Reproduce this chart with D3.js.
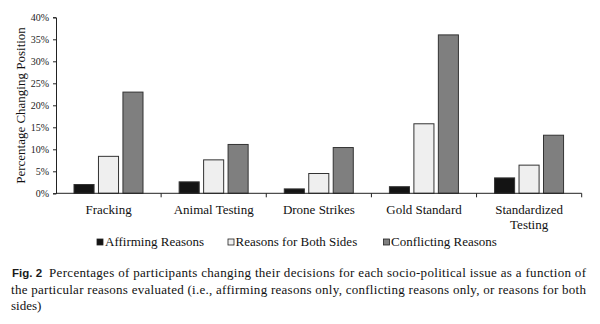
<!DOCTYPE html>
<html><head><meta charset="utf-8">
<script src="https://cdn.jsdelivr.net/npm/d3@7"></script>
</head>
<body style="margin:0;background:#fff">
<script>
const categories = ["Fracking","Animal Testing","Drone Strikes","Gold Standard","Standardized Testing"];
const series = ["Affirming Reasons","Reasons for Both Sides","Conflicting Reasons"];
const affirming = [2.0, 2.6, 1.0, 1.5, 3.5];
const bothSides = [8.4, 7.6, 4.5, 15.8, 6.4];
const conflicting = [23.0, 11.1, 10.4, 36.0, 13.2];
const yTicks = [0,5,10,15,20,25,30,35,40];
const colors = ["#141414","#efefef","#7f7f7f"];
const captionLines = [
  "Percentages of participants changing their decisions for each socio-political issue as a function of",
  "the particular reasons evaluated (i.e., affirming reasons only, conflicting reasons only, or reasons for both",
  "sides)"
];

const SERIF = '"Liberation Serif"';
const W = 600, H = 324;
const svg = d3.select("body").append("svg").attr("width",W).attr("height",H)
  .style("display","block").style("font-family",SERIF);

const y = d3.scaleLinear().domain([0,40]).range([193.3,17.3]);
const x0 = d3.scaleBand().domain(categories).range([56,581.7]).padding(0);
const x1 = d3.scaleBand().domain(series).range([18,87]).paddingInner(0.18).paddingOuter(0);

const data = categories.map((c,i)=>({cat:c, vals:[affirming[i],bothSides[i],conflicting[i]]}));

// bars
const g = svg.append("g");
data.forEach(d=>{
  series.forEach((s,j)=>{
    g.append("rect")
      .attr("x", x0(d.cat)+x1(s))
      .attr("y", y(d.vals[j]))
      .attr("width", x1.bandwidth())
      .attr("height", y(0)-y(d.vals[j]))
      .attr("fill", colors[j])
      .attr("stroke", "#333")
      .attr("stroke-width", 1);
  });
});

// y axis
const yAxis = d3.axisLeft(y).tickValues(yTicks).tickFormat(d=>d+"%").tickSize(3).tickPadding(4);
const ya = svg.append("g").attr("transform","translate(56,0)").call(yAxis);
ya.attr("font-family",null);
ya.select(".domain").attr("stroke","#222");
ya.selectAll(".tick line").attr("stroke","#222");
ya.selectAll("text").style("font-family",SERIF).style("font-size","10px").attr("fill","#222");

// x axis
const xa = svg.append("g").attr("transform",`translate(0,${y(0)})`);
xa.append("line").attr("x1",56).attr("x2",581.7).attr("y1",0).attr("y2",0).attr("stroke","#222");
const bounds = categories.map(c=>x0(c)).concat([x0.range()[1]]);
xa.selectAll("line.tk").data(bounds.slice(1)).enter().append("line")
  .attr("x1",d=>d).attr("x2",d=>d).attr("y1",0).attr("y2",4).attr("stroke","#222");

// category labels
categories.forEach(c=>{
  const words = c === "Standardized Testing" ? ["Standardized","Testing"] : [c];
  words.forEach((w,k)=>{
    svg.append("text").attr("x", x0(c)+x0.bandwidth()/2).attr("y", 214+k*15)
      .attr("text-anchor","middle").style("font-family",SERIF).style("font-size","13px").attr("fill","#111").text(w);
  });
});

// y title
svg.append("text").attr("transform","translate(25,105.5) rotate(-90)")
  .attr("text-anchor","middle").style("font-family",SERIF).style("font-size","13px").attr("fill","#111")
  .text("Percentage Changing Position");

// legend
const legX = [97, 228, 383.5];
const legText = [105, 235.5, 391];
series.forEach((s,j)=>{
  svg.append("rect").attr("x",legX[j]).attr("y",239).attr("width",6).attr("height",6)
    .attr("fill",colors[j]).attr("stroke","#222").attr("stroke-width",0.8);
  svg.append("text").attr("x",legText[j]).attr("y",246).style("font-family",SERIF)
    .style("font-size","13px").attr("fill","#111").text(s);
});

// caption
svg.append("text").attr("x",12).attr("y",277)
  .style("font-family","\"Liberation Sans\"").style("font-weight","bold")
  .style("font-size","11.5px").attr("fill","#1a1a1a").text("Fig. 2");
const capX = [49, 11, 11];
const capY = [277, 294, 310];
captionLines.forEach((t,i)=>{
  const el = svg.append("text").attr("x",capX[i]).attr("y",capY[i]).style("font-family",SERIF)
    .style("font-size","13px").attr("fill","#111").text(t);
  if(i<2){ el.attr("textLength", 586-capX[i]).attr("lengthAdjust","spacing"); }
});
</script>
</body></html>
